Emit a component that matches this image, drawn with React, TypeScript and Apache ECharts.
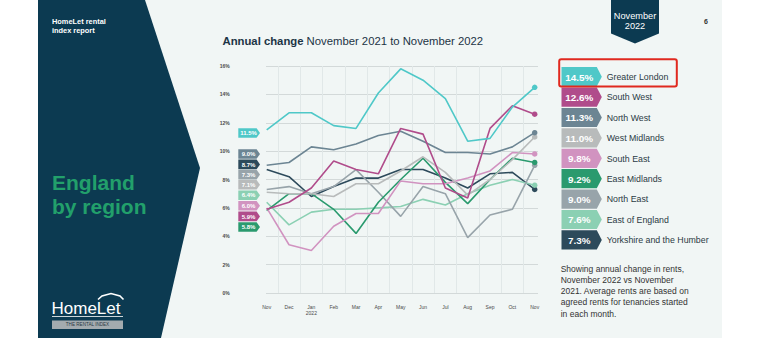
import React, { useEffect, useRef } from "react";
import * as echarts from "echarts";

const FONT = '"Liberation Sans", Arial, Helvetica, sans-serif';

// ---- Data ----
const months = ["Nov", "Dec", "Jan\n2022", "Feb", "Mar", "Apr", "May", "Jun", "Jul", "Aug", "Sep", "Oct", "Nov"];
const yMin = 0;
const yMax = 16;
const yStep = 2;

const regionNames = [
  "Greater London",
  "South West",
  "North West",
  "West Midlands",
  "South East",
  "East Midlands",
  "North East",
  "East of England",
  "Yorkshire and the Humber",
];
const regionColors = [
  "#4fc8c8",
  "#b04c8b",
  "#6c8593",
  "#b8bbbb",
  "#d193c0",
  "#2a9a6e",
  "#98a4aa",
  "#8bd0b3",
  "#2d4a5b",
];

const greaterLondon = [11.5, 12.7, 12.7, 11.8, 11.6, 14.1, 15.8, 15.0, 13.7, 10.7, 10.9, 13.1, 14.5];
const southWest = [5.9, 6.4, 7.4, 9.3, 8.7, 8.4, 11.6, 11.2, 7.4, 6.7, 11.6, 13.2, 12.6];
const northWest = [9.0, 9.2, 10.3, 10.1, 10.5, 11.1, 11.4, 10.7, 9.9, 9.9, 9.8, 10.3, 11.3];
const westMidlands = [7.1, 7.0, 7.0, 6.8, 7.7, 7.7, 8.6, 9.6, 8.5, 6.9, 8.0, 9.4, 11.0];
const southEast = [6.0, 3.4, 3.0, 4.7, 5.6, 5.6, 7.9, 7.7, 7.7, 8.1, 8.6, 9.9, 9.8];
const eastMidlands = [5.8, 7.0, 7.0, 5.9, 4.2, 6.4, 8.0, 9.5, 7.8, 6.3, 8.0, 9.5, 9.2];
const northEast = [7.3, 7.5, 7.0, 7.5, 8.7, 7.1, 5.4, 7.5, 7.0, 3.9, 5.5, 5.9, 9.0];
const eastOfEngland = [6.4, 4.8, 5.7, 5.9, 5.9, 6.0, 6.1, 6.6, 6.2, 7.0, 7.6, 8.0, 7.6];
const yorkshire = [8.7, 8.2, 6.8, 7.5, 8.1, 8.1, 8.7, 8.7, 8.1, 7.4, 8.4, 8.5, 7.3];

const regionValues = [
  greaterLondon,
  southWest,
  northWest,
  westMidlands,
  southEast,
  eastMidlands,
  northEast,
  eastOfEngland,
  yorkshire,
];

const noteText =
  "Showing annual change in rents,\nNovember 2022 vs November\n2021. Average rents are based on\nagreed rents for tenancies started\nin each month.";

function buildOption() {
  const last = months.length - 1;
  const idx = regionNames.map((_, i) => i);
  const byLast = [...idx].sort((a, b) => regionValues[b][last] - regionValues[a][last]);
  const byFirst = [...idx].sort((a, b) => regionValues[b][0] - regionValues[a][0]);

  const graphics: any[] = [];

  // Left dark panel
  graphics.push({
    type: "polygon",
    shape: { points: [[38, 0], [145, 0], [200, 168], [161, 338], [38, 338]] },
    style: { fill: "#0c3a51" },
    z: 1,
  });
  graphics.push({
    type: "text",
    x: 52,
    y: 16.5,
    z: 2,
    style: {
      text: "HomeLet rental\nindex report",
      fill: "#ffffff",
      font: `bold 7.4px ${FONT}`,
      lineHeight: 9.6,
      align: "left",
      verticalAlign: "top",
    },
  });
  graphics.push({
    type: "text",
    x: 52,
    y: 171,
    z: 2,
    style: {
      text: "England\nby region",
      fill: "#22a06b",
      font: `bold 21px ${FONT}`,
      lineHeight: 23.5,
      align: "left",
      verticalAlign: "top",
    },
  });
  // Logo
  graphics.push({
    type: "text",
    x: 51.5,
    y: 308,
    z: 2,
    style: {
      text: "HomeLet",
      fill: "#ffffff",
      font: `17px ${FONT}`,
      align: "left",
      verticalAlign: "middle",
    },
  });
  graphics.push({
    type: "polyline",
    z: 2,
    shape: { points: [[98, 299.5], [102, 296], [111, 293.5], [120, 296], [123.5, 299.5]] },
    style: { stroke: "#ffffff", lineWidth: 1.6, fill: null },
  });
  graphics.push({
    type: "line",
    z: 2,
    shape: { x1: 52, y1: 316.5, x2: 123, y2: 316.5 },
    style: { stroke: "#ffffff", lineWidth: 0.8 },
  });
  graphics.push({
    type: "rect",
    z: 2,
    shape: { x: 52, y: 320.5, width: 71, height: 8.5 },
    style: { fill: "#a3abaf" },
  });
  graphics.push({
    type: "text",
    x: 87.5,
    y: 324.8,
    z: 3,
    style: {
      text: "THE RENTAL INDEX",
      fill: "#2b3a44",
      font: `4.6px ${FONT}`,
      align: "center",
      verticalAlign: "middle",
    },
  });

  // Title
  graphics.push({
    type: "text",
    x: 222.5,
    y: 41,
    z: 2,
    style: {
      text: "{b|Annual change} November 2021 to November 2022",
      fill: "#1c3445",
      font: `11.3px ${FONT}`,
      align: "left",
      verticalAlign: "middle",
      rich: {
        b: { fontWeight: "bold", fontSize: 11.3, fontFamily: FONT, fill: "#1c3445" },
      },
    },
  });

  // Badge
  graphics.push({
    type: "polygon",
    z: 2,
    shape: { points: [[611, 0], [659, 0], [659, 33.5], [635, 43.5], [611, 33.5]] },
    style: { fill: "#0c3a51" },
  });
  graphics.push({
    type: "text",
    x: 635,
    y: 21,
    z: 3,
    style: {
      text: "November\n2022",
      fill: "#ffffff",
      font: `9.2px ${FONT}`,
      lineHeight: 9.6,
      align: "center",
      verticalAlign: "middle",
    },
  });
  graphics.push({
    type: "text",
    x: 706,
    y: 21,
    z: 2,
    style: { text: "6", fill: "#333333", font: `bold 7px ${FONT}`, align: "center", verticalAlign: "middle" },
  });

  // Legend tags (right side)
  byLast.forEach((r, i) => {
    const yc = 76.7 + i * 20.4;
    const h = 9.6;
    graphics.push({
      type: "polygon",
      z: 2,
      shape: { points: [[561.5, yc - h], [596.8, yc - h], [601.8, yc], [596.8, yc + h], [561.5, yc + h]] },
      style: { fill: regionColors[r] },
    });
    graphics.push({
      type: "text",
      x: 579.2,
      y: yc + 0.3,
      z: 3,
      style: {
        text: regionValues[r][last].toFixed(1) + "%",
        fill: "#ffffff",
        font: `bold 9.9px ${FONT}`,
        align: "center",
        verticalAlign: "middle",
      },
    });
    graphics.push({
      type: "text",
      x: 606.7,
      y: yc + 0.3,
      z: 3,
      style: {
        text: regionNames[r],
        fill: "#2b3a44",
        font: `8.8px ${FONT}`,
        align: "left",
        verticalAlign: "middle",
      },
    });
  });
  // highlight box
  graphics.push({
    type: "rect",
    z: 4,
    shape: { x: 559.2, y: 59.2, width: 117.6, height: 27.2, r: 2 },
    style: { fill: null, stroke: "#e0291f", lineWidth: 2 },
  });

  // Note
  graphics.push({
    type: "text",
    x: 560.7,
    y: 263.6,
    z: 2,
    style: {
      text: noteText,
      fill: "#333333",
      font: `8.5px ${FONT}`,
      lineHeight: 11.1,
      align: "left",
      verticalAlign: "top",
    },
  });

  // Start labels (left of the plot)
  const startY = [133, 154, 164.4, 174.6, 184.8, 195.2, 205.8, 216.4, 227];
  byFirst.forEach((r, i) => {
    const yc = startY[i];
    const h = 4.8;
    graphics.push({
      type: "polygon",
      z: 2,
      shape: { points: [[238.3, yc - h], [256.6, yc - h], [260, yc], [256.6, yc + h], [238.3, yc + h]] },
      style: { fill: regionColors[r] },
    });
    graphics.push({
      type: "text",
      x: 248.6,
      y: yc + 0.2,
      z: 3,
      style: {
        text: regionValues[r][0].toFixed(1) + "%",
        fill: "#ffffff",
        font: `bold 6px ${FONT}`,
        align: "center",
        verticalAlign: "middle",
      },
    });
  });

  const series = regionNames.map((name, r) => ({
    name,
    type: "line",
    xAxisIndex: 0,
    yAxisIndex: 0,
    data: regionValues[r],
    color: regionColors[r],
    lineStyle: { width: 1.6, color: regionColors[r] },
    itemStyle: { color: regionColors[r] },
    symbol: "circle",
    showSymbol: true,
    showAllSymbol: true,
    symbolSize: (_v: any, p: any) => (p.dataIndex === last ? 5.5 : 0),
    z: 3 + (regionNames.length - r) * 0.1,
  }));

  return {
    animation: false,
    backgroundColor: "transparent",
    textStyle: { fontFamily: FONT },
    grid: [
      { left: 266.7, right: 760 - 534.7, top: 66, bottom: 338 - 293, containLabel: false },
      { left: 266, right: 760 - 538, top: 66, bottom: 338 - 293, containLabel: false },
    ],
    xAxis: [
      {
        type: "category",
        gridIndex: 0,
        data: months,
        boundaryGap: false,
        axisLine: { show: false },
        axisTick: { show: false },
        splitLine: { show: false },
        axisLabel: {
          interval: 0,
          fontSize: 5,
          lineHeight: 6,
          color: "#4a4a4a",
          margin: 11,
          fontFamily: FONT,
        },
      },
      {
        type: "value",
        gridIndex: 0,
        position: "top",
        min: 0,
        max: months.length - 1,
        interval: 1,
        axisLine: { show: false },
        axisTick: { show: false },
        axisLabel: { show: false },
        splitLine: { show: false },
        minorTick: { show: false, splitNumber: 2 },
        minorSplitLine: { show: true, lineStyle: { color: "#e1e8e8", width: 1 } },
      },
      {
        type: "value",
        gridIndex: 1,
        min: 0,
        max: 1,
        show: false,
      },
    ],
    yAxis: [
      {
        type: "value",
        gridIndex: 0,
        min: yMin,
        max: yMax,
        interval: yStep,
        axisLine: { show: false },
        axisTick: { show: false },
        splitLine: { show: false },
        axisLabel: {
          formatter: "{value}%",
          fontSize: 5,
          fontWeight: "bold",
          color: "#4a4a4a",
          margin: 37,
          fontFamily: FONT,
        },
      },
      {
        type: "value",
        gridIndex: 1,
        min: yMin,
        max: yMax,
        interval: yStep,
        axisLine: { show: false },
        axisTick: { show: false },
        axisLabel: { show: false },
        splitLine: { show: true, lineStyle: { color: "#d3d9d9", width: 1 } },
      },
    ],
    graphic: graphics,
    series,
  };
}

export default function App() {
  const ref = useRef<HTMLDivElement>(null);
  useEffect(() => {
    if (!ref.current) return;
    const chart = echarts.init(ref.current, null, { renderer: "svg" });
    chart.setOption(buildOption() as any);
    return () => chart.dispose();
  }, []);
  return (
    <div style={{ position: "fixed", left: 0, top: 0, width: 760, height: 338, background: "#ffffff", overflow: "hidden" }}>
      <div style={{ position: "absolute", left: 38, top: 0, width: 684, height: 338, background: "#f1f6f5" }} />
      <div ref={ref} style={{ position: "absolute", left: 0, top: 0, width: 760, height: 338 }} />
    </div>
  );
}
